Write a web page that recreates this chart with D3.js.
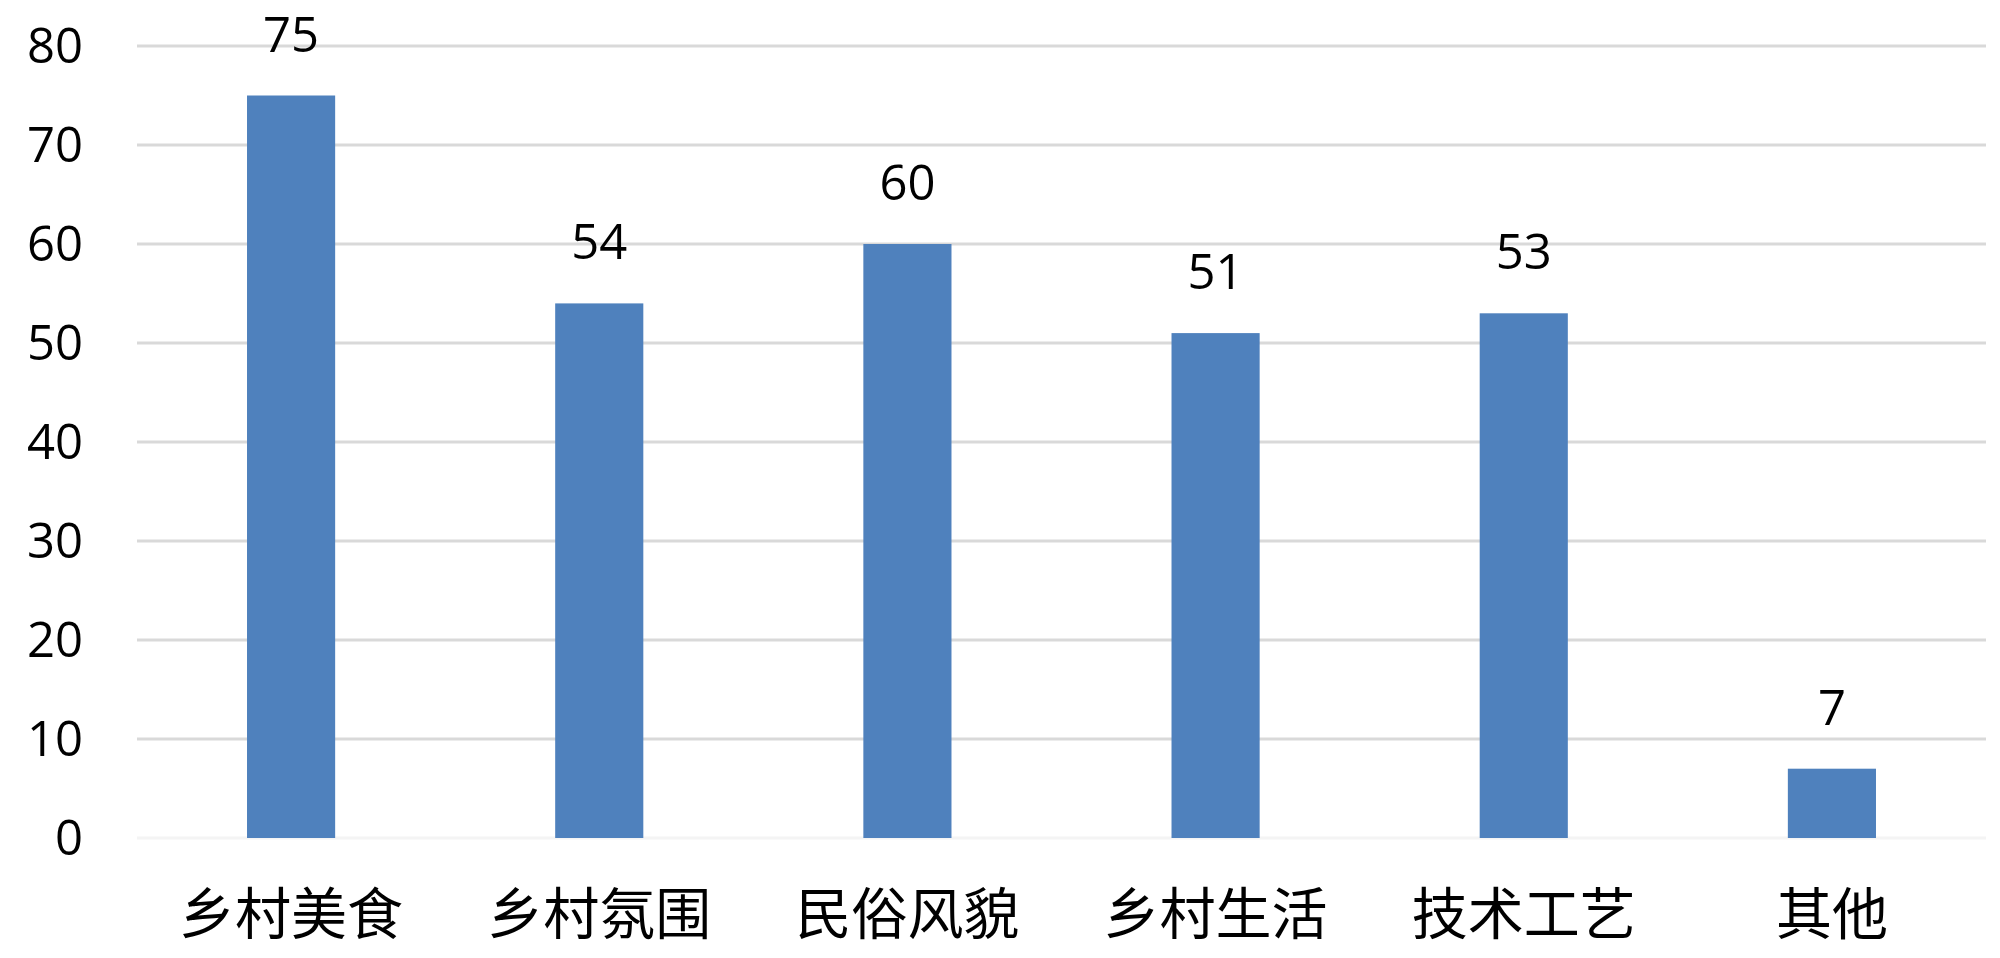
<!doctype html>
<html>
  <head>
    <meta charset="utf-8">
    <script src="https://cdn.jsdelivr.net/npm/d3@7"></script>
    <style>
    body { margin: 0; background: #fff; }
    .tick-label, .value-label {
      font-family: "Open Sans", "Liberation Sans", sans-serif;
      font-size: 49px;
      fill: #000;
    }
    .cat-label {
      font-family: "Noto Sans CJK SC", sans-serif;
      font-size: 56px;
      fill: #000;
    }
    </style>
  </head>
  <body>
    <script>
      var categories = ["乡村美食", "乡村氛围", "民俗风貌", "乡村生活", "技术工艺", "其他"];
      var values = [75, 54, 60, 51, 53, 7];
      var yTicks = [0, 10, 20, 30, 40, 50, 60, 70, 80];

      var w_svg = 2000, h_svg = 958;
      // note: "top" is a reserved window property, so use other names
      var plotLeft = 137, plotRight = 1986, plotTop = 46, plotBottom = 838;

      var svg = d3.select("body").append("svg")
                  .attr("width", w_svg)
                  .attr("height", h_svg);

      var x = d3.scaleBand()
                .domain(categories)
                .range([plotLeft, plotRight])
                .paddingInner(0.714)
                .paddingOuter(0.357);

      var y = d3.scaleLinear().domain([0, 80]).range([plotBottom, plotTop]);

      // gridlines (baseline is almost white in the original)
      svg.selectAll("line.grid")
         .data(yTicks)
         .enter().append("line")
         .attr("class", "grid")
         .attr("x1", plotLeft).attr("x2", plotRight)
         .attr("y1", function(d){ return y(d); })
         .attr("y2", function(d){ return y(d); })
         .attr("stroke", function(d){ return d == 0 ? "#f4f4f4" : "#d9d9d9"; })
         .attr("stroke-width", 3);

      // y labels
      svg.selectAll("text.tick-label")
         .data(yTicks)
         .enter().append("text")
         .attr("class", "tick-label")
         .attr("x", 83)
         .attr("y", function(d){ return y(d); })
         .attr("dy", "0.35em")
         .attr("text-anchor", "end")
         .text(function(d){ return d; });

      // bars
      svg.selectAll("rect.bar")
         .data(values)
         .enter().append("rect")
         .attr("class", "bar")
         .attr("x", function(d, i){ return x(categories[i]); })
         .attr("width", x.bandwidth())
         .attr("y", function(d){ return y(d); })
         .attr("height", function(d){ return y(0) - y(d); })
         .attr("fill", "#4f81bd");

      // value labels
      svg.selectAll("text.value-label")
         .data(values)
         .enter().append("text")
         .attr("class", "value-label")
         .attr("x", function(d, i){ return x(categories[i]) + x.bandwidth() / 2; })
         .attr("y", function(d){ return y(d) - 44; })
         .attr("text-anchor", "middle")
         .text(function(d){ return d; });

      // category labels
      svg.selectAll("text.cat-label")
         .data(categories)
         .enter().append("text")
         .attr("class", "cat-label")
         .attr("x", function(d){ return x(d) + x.bandwidth() / 2; })
         .attr("y", 914)
         .attr("dy", "0.35em")
         .attr("text-anchor", "middle")
         .text(function(d){ return d; });
    </script>
  </body>
</html>
